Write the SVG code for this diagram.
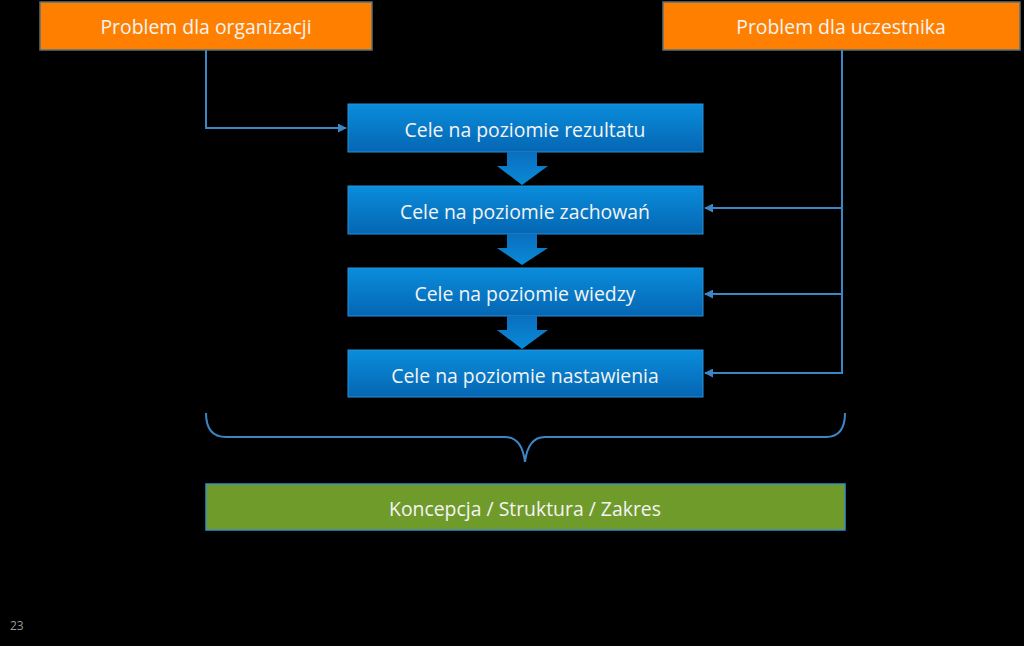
<svg xmlns="http://www.w3.org/2000/svg" width="1024" height="646" viewBox="0 0 1024 646">
<defs>
<linearGradient id="blueGrad" x1="0" y1="0" x2="0" y2="1">
<stop offset="0" stop-color="#0a8ddb"/>
<stop offset="1" stop-color="#0566b3"/>
</linearGradient>
<linearGradient id="arrowGrad" x1="0" y1="0" x2="0" y2="1">
<stop offset="0" stop-color="#0a6fbf"/>
<stop offset="1" stop-color="#0a8ad6"/>
</linearGradient>
<marker id="ah" viewBox="0 0 10 10" refX="9" refY="5" markerWidth="4.5" markerHeight="4.5" orient="auto">
<path d="M0,0 L10,5 L0,10 Z" fill="#3b86c6"/>
</marker>
</defs>
<style>
.orange{fill:#ff8000;stroke:#56707e;stroke-width:1.5}
.blue{fill:url(#blueGrad);stroke:#2b8fd6;stroke-width:1}
.green{fill:#6f9b2b;stroke:#3a8fc0;stroke-width:1.5}
.lbl{font-family:"Open Sans","DejaVu Sans",sans-serif;font-size:19.4px;fill:#f4f4f4;text-anchor:middle;dominant-baseline:central}
.conn{fill:none;stroke:#3b86c6;stroke-width:2}
.blk{fill:url(#arrowGrad)}
</style>
<rect width="1024" height="646" fill="#000"/>

<g id="org">
<rect class="orange" x="40" y="2" width="332" height="48"/>
<text class="lbl" x="206" y="26">Problem dla organizacji</text>
</g>
<g id="uczestnik">
<rect class="orange" x="663" y="2" width="357" height="48"/>
<text class="lbl" x="841" y="26">Problem dla uczestnika</text>
</g>

<g id="rezultat">
<rect class="blue" x="348" y="104" width="355" height="48"/>
<text class="lbl" x="525" y="129">Cele na poziomie rezultatu</text>
</g>
<g id="zachowan">
<rect class="blue" x="348" y="186" width="355" height="48"/>
<text class="lbl" x="525" y="211">Cele na poziomie zachowań</text>
</g>
<g id="wiedzy">
<rect class="blue" x="348" y="268" width="355" height="48"/>
<text class="lbl" x="525" y="293">Cele na poziomie wiedzy</text>
</g>
<g id="nastawienia">
<rect class="blue" x="348" y="350" width="355" height="47"/>
<text class="lbl" x="525" y="375">Cele na poziomie nastawienia</text>
</g>

<g id="koncepcja">
<rect class="green" x="206" y="484" width="639" height="46"/>
<text class="lbl" x="525" y="508">Koncepcja / Struktura / Zakres</text>
</g>

<g id="connectors">
<path class="blk" d="M507,152 H537 V166 H548 L522,185 L497,166 H507 Z"/>
<path class="blk" d="M507,234 H537 V248 H548 L522,265 L497,248 H507 Z"/>
<path class="blk" d="M507,316 H537 V330 H548 L522,349 L497,330 H507 Z"/>
<path class="conn" d="M206,50 V128 H346" marker-end="url(#ah)"/>
<path class="conn" d="M842,50 V373 H705" marker-end="url(#ah)"/>
<path class="conn" d="M842,208 H705" marker-end="url(#ah)"/>
<path class="conn" d="M842,294 H705" marker-end="url(#ah)"/>
<path class="conn" d="M206,413 Q206,437 226,437 H505 Q522,437 525,462 Q528,437 545,437 H826 Q845,437 845,413"/>
</g>

<text x="10" y="630" font-family="'Open Sans','DejaVu Sans',sans-serif" font-size="12" fill="#9a9a9a">23</text>
</svg>
